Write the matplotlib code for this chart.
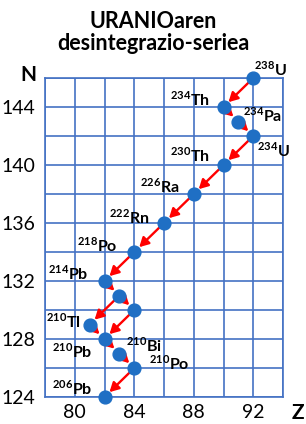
import matplotlib.pyplot as plt

plt.rcParams["font.family"] = ["Lato", "DejaVu Sans"]
plt.rcParams["mathtext.fontset"] = "custom"
plt.rcParams["mathtext.rm"] = "Lato:bold"
plt.rcParams["mathtext.bf"] = "Lato:bold"

# Uranium-238 decay series: name, proton number Z, neutron number N
isotopes = ["238U", "234Th", "234Pa", "234U", "230Th", "226Ra", "222Rn", "218Po",
            "214Pb", "214Bi", "214Po", "210Tl", "210Pb", "210Bi", "210Po", "206Pb"]
z_vals = [92, 90, 91, 92, 90, 88, 86, 84, 82, 83, 84, 81, 82, 83, 84, 82]
n_vals = [146, 144, 143, 142, 140, 138, 136, 134, 132, 131, 130, 129, 128, 127, 126, 124]

# decay steps (parent -> daughter)
decays = [("238U", "234Th"), ("234Th", "234Pa"), ("234Pa", "234U"), ("234U", "230Th"),
          ("230Th", "226Ra"), ("226Ra", "222Rn"), ("222Rn", "218Po"), ("218Po", "214Pb"),
          ("214Pb", "214Bi"), ("214Bi", "214Po"), ("214Bi", "210Tl"), ("214Po", "210Pb"),
          ("210Tl", "210Pb"), ("210Pb", "210Bi"), ("210Bi", "210Po"), ("210Po", "206Pb")]

x_ticks = [78, 80, 82, 84, 86, 88, 90, 92, 94]
y_ticks = [124, 126, 128, 130, 132, 134, 136, 138, 140, 142, 144, 146]

# label placement (offset in pixels, horizontal alignment)
label_pos = {
    "238U": (1, 9, "left"),
    "234Th": (-14, 8, "right"),
    "234Pa": (5, 6, "left"),
    "234U": (4, -14, "left"),
    "230Th": (-14, 10, "right"),
    "226Ra": (-14, 8, "right"),
    "222Rn": (-14, 6, "right"),
    "218Po": (-17, 7, "right"),
    "214Pb": (-16, 8, "right"),
    "210Tl": (-9, 3, "right"),
    "210Pb": (-12, -12, "right"),
    "210Bi": (7, 8, "left"),
    "210Po": (15, 5, "left"),
    "206Pb": (-12, 9, "right"),
}

grid_color = "#4472C4"
dot_color = "#1F6FC4"

fig = plt.figure(figsize=(3.06, 4.24), dpi=100)
ax = fig.add_axes([45 / 306, 27 / 424, 238 / 306, 319 / 424])

ax.set_xlim(78, 94)
ax.set_ylim(124, 146)
ax.set_xticks(x_ticks)
ax.set_yticks(y_ticks)
ax.set_xticklabels([str(v) if v % 4 == 0 else "" for v in x_ticks])
ax.set_yticklabels([str(v) if v % 4 == 0 else "" for v in y_ticks])
ax.tick_params(length=0, labelsize=14, pad=5)
ax.tick_params(axis="y", pad=7)
ax.grid(True, color=grid_color, linewidth=1.2)
for sp in ax.spines.values():
    sp.set_color(grid_color)
    sp.set_linewidth(1.2)

idx = {name: i for i, name in enumerate(isotopes)}
for a, b in decays:
    ia, ib = idx[a], idx[b]
    ax.annotate("", xy=(z_vals[ib], n_vals[ib]), xytext=(z_vals[ia], n_vals[ia]),
                arrowprops=dict(arrowstyle="-|>,head_length=0.55,head_width=0.3",
                                color="#FF0000", lw=1.7, shrinkA=0, shrinkB=5),
                zorder=3)

ax.scatter(z_vals, n_vals, s=85, color=dot_color, zorder=4, clip_on=False)

for name, z, n in zip(isotopes, z_vals, n_vals):
    if name not in label_pos:
        continue
    dx, dy, ha = label_pos[name]
    mass, sym = name[:3], name[3:]
    ax.annotate(r"$^{%s}$%s" % (mass, sym), (z, n), xytext=(dx, dy),
                textcoords="offset pixels", ha=ha, va="center",
                fontsize=11.5, fontweight="bold", zorder=5)

fig.text(0.5, 0.975, "URANIOaren\ndesintegrazio-seriea", ha="center", va="top",
         fontsize=15.5, fontweight="bold", linespacing=1.1)
fig.text(28 / 306, 1 - 75 / 424, "N", ha="center", va="center", fontsize=15, fontweight="bold")
fig.text(298 / 306, 1 - 413 / 424, "Z", ha="center", va="center", fontsize=15, fontweight="bold")

fig.savefig("out.png", dpi=100)
